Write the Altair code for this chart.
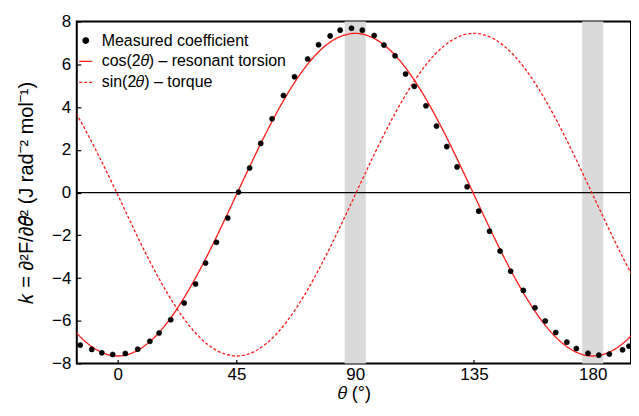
import altair as alt
import pandas as pd

# Measured coefficient
theta_meas = [-14.2, -9.8, -6.0, -1.9, 2.9, 7.6, 12.2, 15.7, 20.1, 25.2, 29.5, 33.3, 37.4, 41.7,
              45.8, 50.0, 54.2, 58.5, 62.8, 67.0, 72.0, 76.1, 80.5, 84.3, 88.6, 92.7, 97.2,
              100.9, 105.1, 109.1, 112.4, 116.8, 120.8, 124.7, 128.6, 132.4, 136.8, 140.9,
              144.9, 148.9, 153.7, 158.1, 162.0, 166.0, 170.2, 173.8, 178.2, 182.3, 186.3,
              191.3, 193.7]
k_meas = [-7.14, -7.34, -7.50, -7.58, -7.53, -7.33, -6.96, -6.57, -5.95, -5.17, -4.28, -3.30,
          -2.33, -1.19, 0.02, 1.15, 2.30, 3.45, 4.54, 5.42, 6.25, 6.92, 7.33, 7.60, 7.69, 7.60,
          7.35, 6.90, 6.40, 5.55, 4.97, 4.06, 3.11, 2.15, 1.20, 0.27, -0.87, -1.81, -2.74,
          -3.68, -4.58, -5.39, -6.01, -6.55, -7.00, -7.30, -7.52, -7.61, -7.56, -7.36, -7.19]

# Fitted curves (at 7.5 degree steps)
theta_fit = [-22.5, -15, -7.5, 0, 7.5, 15, 22.5, 30, 37.5, 45, 52.5, 60, 67.5, 75, 82.5, 90,
             97.5, 105, 112.5, 120, 127.5, 135, 142.5, 150, 157.5, 165, 172.5, 180, 187.5,
             195, 202.5]
cos_fit = [-5.44, -6.64, -7.39, -7.65, -7.39, -6.64, -5.44, -3.88, -2.06, -0.10, 1.86, 3.68,
           5.24, 6.44, 7.19, 7.45, 7.19, 6.44, 5.24, 3.68, 1.86, -0.10, -2.06, -3.88, -5.44,
           -6.64, -7.39, -7.65, -7.39, -6.64, -5.44]
sin_fit = [5.10, 3.55, 1.80, -0.10, -2.06, -3.88, -5.44, -6.64, -7.39, -7.65, -7.39, -6.64,
           -5.44, -3.88, -2.06, -0.10, 1.86, 3.68, 5.24, 6.44, 7.19, 7.45, 7.19, 6.44, 5.24,
           3.68, 1.86, -0.10, -2.06, -3.88, -5.44]

band_start = [86, 176]
band_end = [94, 184]

x_ticks = [0, 45, 90, 135, 180]
y_ticks = [-8, -6, -4, -2, 0, 2, 4, 6, 8]
zero_line = [0]

S_MEAS = "Measured coefficient"
S_COS = "cos(2\U0001D703) \u2013 resonant torsion"
S_SIN = "sin(2\U0001D703) \u2013 torque"
series_order = [S_MEAS, S_COS, S_SIN]

meas_df = pd.DataFrame({"theta": theta_meas, "k": k_meas, "series": S_MEAS})
fit_df = pd.concat([
    pd.DataFrame({"theta": theta_fit, "k": cos_fit, "series": S_COS}),
    pd.DataFrame({"theta": theta_fit, "k": sin_fit, "series": S_SIN}),
])
band_df = pd.DataFrame({"start": band_start, "end": band_end})
zero_df = pd.DataFrame({"k": zero_line})

FONT = "Liberation Sans"
RED = "#ff1a1a"

x_scale = alt.Scale(domain=[-15.5, 194.5], nice=False, zero=False)
y_scale = alt.Scale(domain=[-8, 8], nice=False, zero=False)
x_axis = alt.Axis(values=x_ticks, title="\U0001D703 (\u00b0)", offset=-4, tickSize=4,
                  labelPadding=3, titlePadding=2, titleFontSize=18)
y_axis = alt.Axis(values=y_ticks,
                  title="\U0001D458 = \u2202\u00b2F/\u2202\U0001D703\u00b2 (J rad\u207b\u00b2 mol\u207b\u00b9)",
                  offset=-4, tickSize=4, labelPadding=6, titlePadding=15, titleFontSize=20)

color_range = ["black", RED, RED]
stroke_scale = alt.Scale(domain=series_order, range=color_range)
fill_scale = alt.Scale(domain=series_order, range=color_range)
shape_scale = alt.Scale(domain=series_order,
                        range=["circle", "M-2.4,0L2.4,0", "M-2.4,0L2.4,0"])
dash_scale = alt.Scale(domain=series_order, range=[[1, 0], [1, 0], [3, 2]])

X = alt.X("theta:Q", scale=x_scale, axis=x_axis)
Y = alt.Y("k:Q", scale=y_scale, axis=y_axis)

bands = alt.Chart(band_df).mark_rect(color="#dadada").encode(
    x=alt.X("start:Q", scale=x_scale, axis=x_axis),
    x2="end:Q",
)

zero = alt.Chart(zero_df).mark_rule(color="black", strokeWidth=1.2).encode(
    y=alt.Y("k:Q", scale=y_scale, axis=y_axis)
)

fits = alt.Chart(fit_df).mark_line(interpolate="natural", strokeWidth=1.3, clip=True).encode(
    x=X, y=Y,
    stroke=alt.Stroke("series:N", scale=stroke_scale, title=None),
    strokeDash=alt.StrokeDash("series:N", scale=dash_scale, title=None),
    detail="series:N",
)

points = alt.Chart(meas_df).mark_point(filled=True, size=26, strokeWidth=0.6, opacity=1).encode(
    x=X, y=Y,
    fill=alt.Fill("series:N", scale=fill_scale, title=None),
    stroke=alt.Stroke("series:N", scale=stroke_scale, title=None),
    shape=alt.Shape("series:N", scale=shape_scale, title=None),
)

chart = alt.layer(bands, zero, fits, points).properties(
    width=556, height=343,
    autosize=alt.AutoSizeParams(type="none"),
    padding={"left": 69, "top": 13, "right": 0, "bottom": 40},
).configure_view(
    stroke="black", strokeWidth=2
).configure_axis(
    domain=False, grid=False,
    labelFont=FONT, titleFont=FONT, labelFontSize=17,
    titleFontWeight="normal", labelColor="black", titleColor="black", tickColor="black",
    tickWidth=1.2,
).configure_legend(
    orient="none", legendX=1, legendY=11, labelFont=FONT, labelFontSize=16,
    labelColor="black", symbolSize=30, symbolStrokeWidth=1.3, rowPadding=5,
    labelOffset=8, padding=0, labelLimit=400,
)

chart.save("out.html", embed_options={"renderer": "svg", "actions": False})
